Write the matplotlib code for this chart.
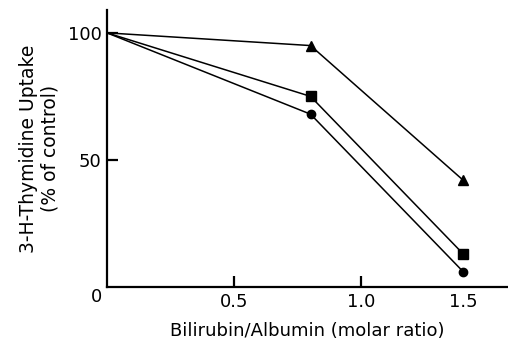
import numpy as np
import matplotlib.pyplot as plt
from matplotlib.ticker import FixedLocator, FixedFormatter

plt.rcParams['font.family'] = ['DejaVu Sans']

ratio = [0, 0.8, 1.5]
tri_vals = [100, 95, 42]
sq_vals = [100, 75, 13]
circ_vals = [100, 68, 6]

xticks = [0.5, 1.0]
xtick_labels = ['0.5', '1.0']
yticks = [50, 100]
ytick_labels = ['50', '100']


# the original axis is squeezed past 1.0
def fwd(x):
    x = np.asarray(x, dtype=float)
    return np.where(x <= 1.0, x, 1.0 + (x - 1.0) * 0.8)


def inv(x):
    x = np.asarray(x, dtype=float)
    return np.where(x <= 1.0, x, 1.0 + (x - 1.0) / 0.8)


fig = plt.figure(figsize=(5.08, 3.41), dpi=100)
ax = fig.add_axes([0.2106, 0.1584, 0.7894, 0.8123])
ax.set_xscale('function', functions=(fwd, inv))

ax.plot(ratio, tri_vals, color='black', lw=1.1)
ax.plot(ratio[1:], tri_vals[1:], ls='none', marker='^', ms=6.5, color='black')
ax.plot(ratio, sq_vals, color='black', lw=1.1)
ax.plot(ratio[1:], sq_vals[1:], ls='none', marker='s', ms=7.8, color='black')
ax.plot(ratio, circ_vals, color='black', lw=1.1)
ax.plot(ratio[1:], circ_vals[1:], ls='none', marker='o', ms=6, color='black')

ax.set_xlim(0, 1.72)
ax.set_ylim(0, 109)

for s in ['top', 'right']:
    ax.spines[s].set_visible(False)
for s in ['left', 'bottom']:
    ax.spines[s].set_linewidth(1.6)

ax.xaxis.set_major_locator(FixedLocator(xticks))
ax.xaxis.set_major_formatter(FixedFormatter(xtick_labels))
ax.xaxis.set_minor_locator(FixedLocator([1.5]))
ax.xaxis.set_minor_formatter(FixedFormatter(['1.5']))
ax.set_yticks(yticks)
ax.set_yticklabels(ytick_labels)

ax.tick_params(which='major', direction='in', length=8, width=1.6, labelsize=13, pad=4)
ax.tick_params(which='minor', length=0, labelsize=13, pad=4)
ax.tick_params(axis='y', pad=4)

ax.annotate('0', xy=(0, 0), xytext=(-7.2, -7.5), textcoords='offset points',
            xycoords='data', ha='center', va='center', fontsize=13,
            annotation_clip=False)

ax.set_xlabel('Bilirubin/Albumin (molar ratio)', fontsize=13, labelpad=8)
ax.set_ylabel('3-H-Thymidine Uptake\n(% of control)', fontsize=13.5, labelpad=6,
              linespacing=1.15)

plt.savefig('out.png', dpi=100)
